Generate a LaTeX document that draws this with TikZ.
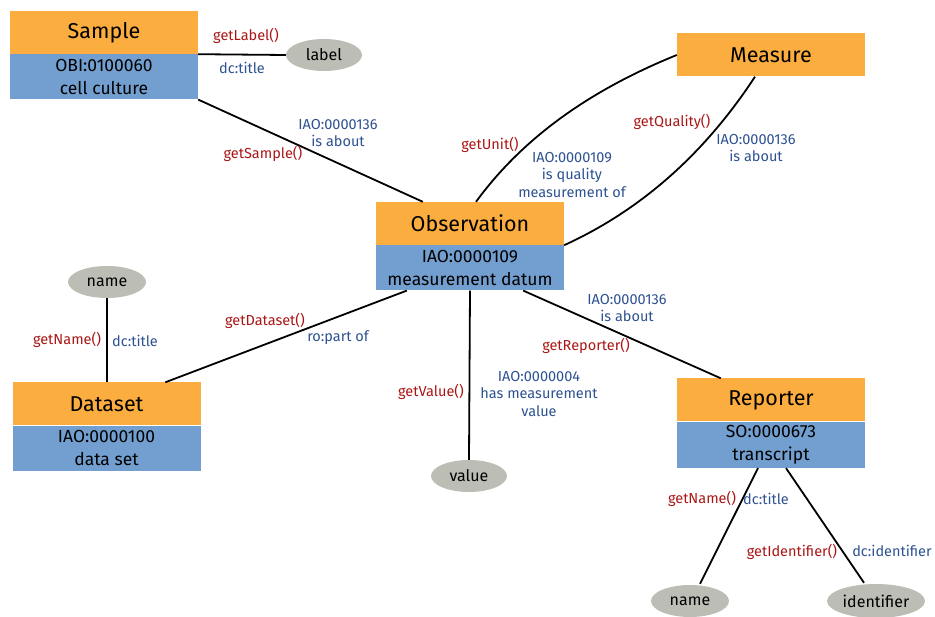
\documentclass[tikz,border=0pt]{standalone}
\usepackage{fontspec}
\setmainfont{Fira Sans}
\usetikzlibrary{shapes.geometric,calc}
\definecolor{orng}{RGB}{251,173,63}
\definecolor{bluebox}{RGB}{114,159,207}
\definecolor{grayell}{RGB}{188,189,181}
\definecolor{redtxt}{RGB}{170,22,22}
\definecolor{bluetxt}{RGB}{45,82,145}
\tikzset{
  titlebox/.style={fill=orng, minimum width=188pt, minimum height=43pt, inner sep=0pt, font=\fontsize{21.5}{24}\selectfont},
  idbox/.style={fill=bluebox, minimum width=188pt, minimum height=45pt, inner sep=0pt, align=center, anchor=north, font=\fontsize{17.5}{23}\selectfont},
  ell/.style={ellipse, fill=grayell, minimum width=77pt, minimum height=32pt, inner sep=0pt, font=\fontsize{16}{18}\selectfont},
  meth/.style={text=redtxt, font=\fontsize{14.5}{17}\selectfont, align=center, inner sep=0pt},
  rel/.style={text=bluetxt, font=\fontsize{14.5}{17.5}\selectfont, align=center, inner sep=0pt},
  conn/.style={line width=1.8pt, black},
}
\begin{document}
\begin{tikzpicture}[x=1pt,y=-1pt]
\useasboundingbox (0,0) rectangle (935,617);
% boxes
\node[titlebox] (sample) at (104,32.5) {Sample};
\node[idbox] (sampleid) at (sample.south) {OBI:0100060\\cell culture};
\node[titlebox] (measure) at (771,55) {Measure};
\node[titlebox] (obs) at (470,223.5) {Observation};
\node[idbox] (obsid) at (obs.south) {IAO:0000109\\measurement datum};
\node[titlebox] (dataset) at (106.5,404) {Dataset};
\node[idbox] (datasetid) at (dataset.south) {IAO:0000100\\data set};
\node[titlebox] (reporter) at (771,400) {Reporter};
\node[idbox, minimum height=46pt] (reporterid) at (reporter.south) {SO:0000673\\transcript};
% ellipses
\node[ell, minimum width=76pt] (label) at (324,55) {label};
\node[ell, minimum width=78pt] (dname) at (107,282) {name};
\node[ell, minimum width=76pt] (value) at (469,476) {value};
\node[ell, minimum width=78pt] (rname) at (690,601) {name};
\node[ell, minimum width=98pt, minimum height=34pt] (ident) at (876,601) {identifier};
% connectors
\draw[conn] (sampleid.north east) -- (label.west);
\draw[conn] (sampleid.south east) -- ([xshift=47pt]obs.north west);
\draw[conn] ([xshift=6pt]obs.north) .. controls (522,139) and (588,91) .. (measure.west);
\draw[conn] (obs.south east) .. controls (639,211) and (703,156) .. ([xshift=-16pt]measure.south);
\draw[conn] (obsid.south) -- (value.north);
\draw[conn] ([xshift=31pt]obsid.south west) -- ([xshift=153pt]dataset.north west);
\draw[conn] ([xshift=-41pt]obsid.south east) -- ([xshift=44pt]reporter.north west);
\draw[conn] (dname.south) -- (dataset.north -| dname.south);
\draw[conn] ([xshift=-13pt]reporterid.south) -- ([xshift=10pt,yshift=1pt]rname.north);
\draw[conn] ([xshift=15pt]reporterid.south) -- ([xshift=-12pt,yshift=1pt]ident.north);
% labels
\node[meth] (l1) at (246,36) {getLabel()};
\node[rel] (l2) at (242,68) {dc:title};
\node[rel] (l3) at (338,133) {IAO:0000136\\is about};
\node[meth] (l4) at (263,154) {getSample()};
\node[meth] (l5) at (490,145) {getUnit()};
\node[rel] (l6) at (572,175) {IAO:0000109\\is quality\\measurement of};
\node[meth] (l7) at (672,122) {getQuality()};
\node[rel] (l8) at (756,148) {IAO:0000136\\is about};
\node[meth] (l9) at (265,321) {getDataset()};
\node[rel] (l10) at (338,338) {ro:part of};
\node[meth] (l11) at (67,340) {getName()};
\node[rel] (l12) at (135,341) {dc:title};
\node[rel] (l13) at (627,308) {IAO:0000136\\is about};
\node[meth] (l14) at (586,346) {getReporter()};
\node[meth] (l15) at (431,392) {getValue()};
\node[rel] (l16) at (539,394) {IAO:0000004\\has measurement\\value};
\node[meth] (l17) at (702,499) {getName()};
\node[rel] (l18) at (766,499) {dc:title};
\node[meth] (l19) at (792,552) {getIdentifier()};
\node[rel] (l20) at (892,551) {dc:identifier};
\end{tikzpicture}
\end{document}
